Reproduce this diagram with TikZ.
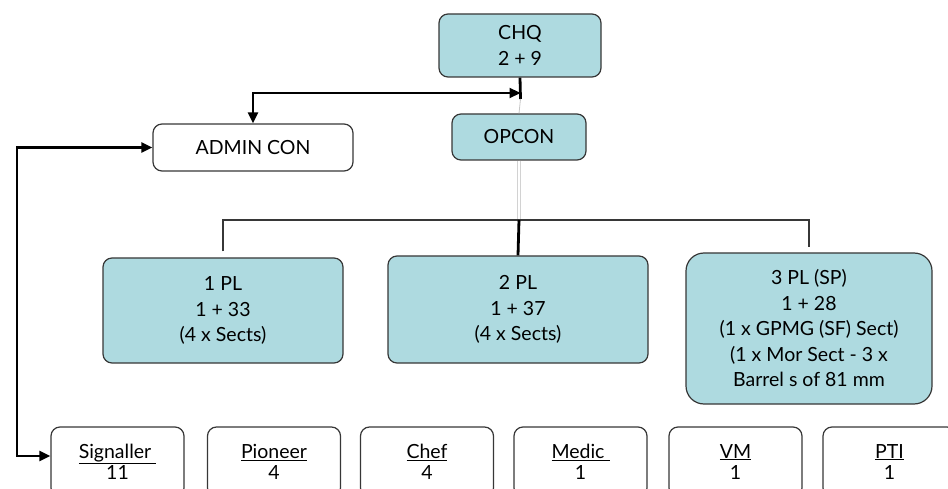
\documentclass[tikz,border=0pt]{standalone}
\usepackage{fontspec}
\setmainfont{Lato}
\usepackage{tikz}
\usetikzlibrary{arrows.meta}

\definecolor{plblue}{RGB}{174,218,224}
\definecolor{boxline}{RGB}{55,55,55}

\begin{document}
\begin{tikzpicture}[x=1pt, y=-1pt,
    every node/.style={font=\fontsize{19.5}{25.5}\selectfont, align=center},
    box/.style={draw=boxline, line width=1.2pt, rounded corners=9pt, inner sep=0pt},
    bluebox/.style={box, fill=plblue},
    conn/.style={line width=2.2pt, {Triangle[length=11pt,width=10pt]}-{Triangle[length=11pt,width=10pt]}},
    busline/.style={draw=boxline, line width=1.2pt},
    heavy/.style={line width=2.8pt}]
    \useasboundingbox (0,0) rectangle (948,489);
    \clip (0,0) rectangle (948,489);

    % Mando
    \node[bluebox, minimum width=162pt, minimum height=63pt] (chq) at (520,45.5) {CHQ\\2 + 9};
    \node[bluebox, minimum width=134pt, minimum height=46pt] (opcon) at (519,137) {OPCON};
    \node[box, fill=white, minimum width=200pt, minimum height=47pt] (admin) at (253,147.5) {ADMIN CON};

    % Pelotones
    \node[bluebox, minimum width=240pt, minimum height=105pt] (pl1) at (223,310.5) {1 PL\\1 + 33\\(4 x Sects)};
    \node[bluebox, minimum width=260pt, minimum height=107pt] (pl2) at (518,309.5) {2 PL\\1 + 37\\(4 x Sects)};
    \node[bluebox, minimum width=246pt, minimum height=151pt, rounded corners=18pt] (pl3) at (809,328.5)
        {3 PL (SP)\\1 + 28\\(1 x GPMG (SF) Sect)\\ (1 x Mor Sect - 3 x\\Barrel s of 81 mm};

    % Especialistas
    \foreach \x/\name/\lab/\num in {117.5/sig/Signaller\ /11, 274/pio/Pioneer/4, 427/chef/Chef/4,
                                    580.5/med/Medic\ /1, 735.5/vm/VM/1, 889.5/pti/PTI/1}
        \node[box, fill=white, minimum width=133pt, minimum height=70pt] (\name) at (\x,462)
            {\underline{\lab}\\[-4pt]\num};

    % Enlaces
    \coordinate (hq) at (520.5,93);
    \coordinate (stem) at (520.5,99);
    \coordinate (bus) at (519,220);
    \coordinate (lft) at (17,300);
    \draw[heavy] (chq.south) -- (stem);
    \draw[gray!45, line width=0.8pt] (stem) -- (opcon.north);
    \draw[gray!35, line width=0.7pt, double=white, double distance=2pt] (opcon.south) -- ([yshift=-2pt]bus);
    \draw[busline, shorten <=6pt, shorten >=5pt] (pl1.north) |- (bus) -| (pl3.north);
    \draw[heavy] (bus) -- (pl2.north);
    \draw[conn] (admin.north) |- (hq);
    \draw[conn] (admin.west) -| (lft) |- ([yshift=6pt]sig.west);
\end{tikzpicture}
\end{document}
